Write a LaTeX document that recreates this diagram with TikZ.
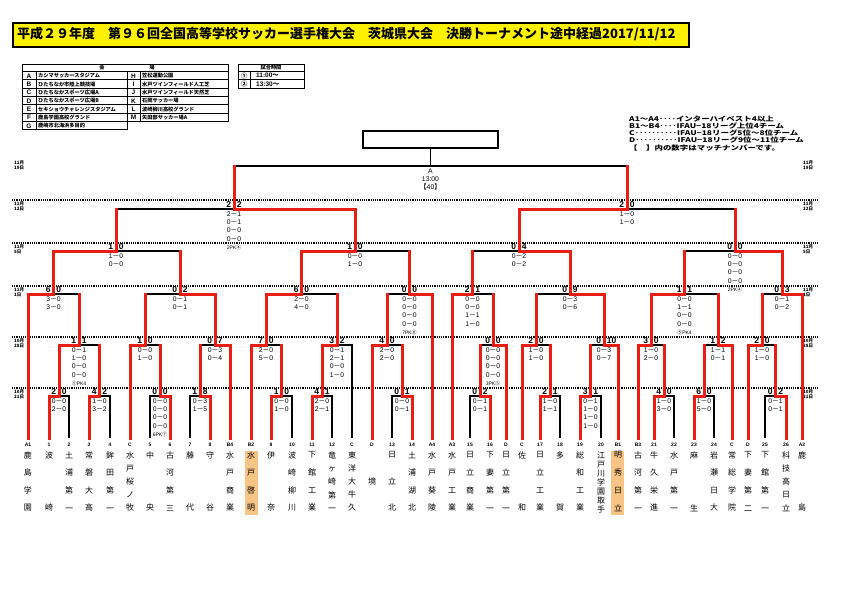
\documentclass[tikz,border=0pt]{standalone}
\usepackage{fontspec}
\usepackage{graphicx}
\setmainfont{Liberation Sans}
\newfontfamily\jp{Noto Sans CJK JP}
\usetikzlibrary{calc}

\definecolor{wred}{RGB}{230,30,20}
\definecolor{hl}{RGB}{246,196,132}
\newcommand\hy{{\jp －}}
\newcommand\pk[1]{{\fontsize{5}{8.3}\selectfont #1}}
% team name written top to bottom, spread over the column
\newcommand\vname[1]{\parbox[c][60pt][s]{10pt}{\centering\vskip 0pt plus .001fil
  \foreach[count=\k] \c in #1 {\ifnum\k>1 \par\vfill\fi\c}\par\vskip 0pt plus .001fil}}
% score of one match: goals left, goals right, details
\newcommand\res[4]{%
  \node[hd, anchor=south east] (#1a) at ([xshift=-2.6pt,yshift=1.4pt]#1) {#2};
  \node[hd, anchor=south west] (#1b) at ([xshift=2.6pt,yshift=1.4pt]#1) {#3};
  \node[sl, anchor=north] (#1s) at ([yshift=-2.4pt]#1) {#4};}

\begin{document}
\begin{tikzpicture}[
    x=1pt,
    y=-1pt,
    wl/.style={draw=wred, line width=3pt, line cap=rect},
    ll/.style={draw=black, line width=1.8pt},
    hd/.style={font=\fontsize{8.5}{9}\selectfont\bfseries, inner sep=0},
    sl/.style={font=\fontsize{6.8}{8.3}\selectfont, align=center, inner sep=0},
    tn/.style={font=\fontsize{5}{5}\selectfont\bfseries, inner sep=0},
    nm/.style={font=\jp\fontsize{8}{9}\selectfont, inner sep=0},
    dt/.style={font=\jp\bfseries\fontsize{4.5}{5}\selectfont, align=left, anchor=north west, inner sep=0},
    dots/.style={line width=1.1pt, dash pattern=on 1.2pt off 1pt},
    lg/.style={font=\jp\bfseries\fontsize{6.5}{7}\selectfont, anchor=west, inner sep=0},
    vt/.style={font=\jp\bfseries\fontsize{5.2}{6}\selectfont, anchor=west, inner sep=0},
    vl/.style={font=\bfseries\fontsize{6.5}{7}\selectfont, inner sep=0}
]
\useasboundingbox (0,0) rectangle (842,595);

% title bar
\node[draw, line width=2pt, fill=yellow, minimum width=676pt, minimum height=24pt, anchor=north west, inner sep=0] (title) at (12,22) {};
\node[anchor=west, font=\jp\bfseries\fontsize{13}{13}\selectfont, inner sep=0] (ttl) at (17,34) {平成２９年度　第９６回全国高等学校サッカー選手権大会　茨城県大会　決勝トーナメント途中経過2017/11/12};

% venue table
\draw[line width=1pt] (22,64) -- (228,64) -- (228,121.5);
\draw[line width=1pt] (22,64) -- (22,129.8) -- (127,129.8);
\foreach \y in {71.5,79.8,88.2,96.5,104.8,113.2,121.5}
  \draw[line width=1pt] (22,\y) -- (228,\y);
\draw[line width=1pt] (36,71.5) -- (36,129.8);
\draw[line width=1pt] (127,71.5) -- (127,129.8);
\draw[line width=1pt] (140,71.5) -- (140,121.5);
\node[vt, anchor=center] (hv1) at (102,67.8) {会};
\node[vt, anchor=center] (hv2) at (152,67.8) {場};
\foreach \l/\n [count=\i] in {A/カシマサッカースタジアム, B/ひたちなか市陸上競技場, C/ひたちなかスポーツ広場A, D/ひたちなかスポーツ広場B, E/セキショウチャレンジスタジアム, F/鹿島学園高校グランド, G/鹿嶋市北海浜多目的} {
  \node[vl] (va\i) at (29,{67.5+8.33*\i}) {\l};
  \node[vt] (vn\i) at (38,{67.5+8.33*\i}) {\n};
}
\foreach \l/\n [count=\i] in {H/笠松運動公園, I/水戸ツインフィールド人工芝, J/水戸ツインフィールド天然芝, K/石岡サッカー場, L/波崎柳川高校グランド, M/矢田部サッカー場A} {
  \node[vl] (vb\i) at (133.5,{67.5+8.33*\i}) {\l};
  \node[vt] (vm\i) at (142,{67.5+8.33*\i}) {\n};
}

% match times
\draw[line width=1pt] (238,64) rectangle (304,88.2);
\draw[line width=1pt] (238,71.5) -- (304,71.5);
\draw[line width=1pt] (238,79.8) -- (304,79.8);
\draw[line width=1pt] (250,71.5) -- (250,88.2);
\node[vt, anchor=center] (th) at (271,67.8) {試合時間};
\node[vl, font=\jp\bfseries\fontsize{6.5}{7}\selectfont] (tc1) at (244,75.7) {①};
\node[vl, font=\jp\bfseries\fontsize{6.5}{7}\selectfont] (tc2) at (244,84) {②};
\node[vl, anchor=west] (tt1) at (256,75.7) {11:00{\jp ～}};
\node[vl, anchor=west] (tt2) at (256,84) {13:30{\jp ～}};

% legend
\node[lg] (lg1) at (629,119) {\scalebox{1.3}[1]{A1～A4‥‥インターハイベスト4以上}};
\node[lg] (lg2) at (629,126) {\scalebox{1.3}[1]{B1～B4‥‥IFAU−18リーグ上位4チーム}};
\node[lg] (lg3) at (629,133) {\scalebox{1.3}[1]{C‥‥‥‥‥IFAU−18リーグ5位～8位チーム}};
\node[lg] (lg4) at (629,140) {\scalebox{1.3}[1]{D‥‥‥‥‥IFAU−18リーグ9位～11位チーム}};
\node[lg] (lg5) at (629,148) {\scalebox{1.3}[1]{【　】内の数字はマッチナンバーです。}};

% round lines and dates
\foreach \y in {200,243,286,337,388}
  \draw[dots] (12,\y) -- (818,\y);
\foreach \y/\mo/\dy in {161/11/19, 202/11/12, 245/11/5, 288/11/1, 339/10/28, 390/10/21} {
  \node[dt] (dl\dy) at (14,\y) {{\mo}月\\{\dy}日};
  \node[dt] (dr\dy) at (803,\y) {{\mo}月\\{\dy}日};
}

% finalists
\fill[hl] (245,451) rectangle (258,515);
\fill[hl] (611,451) rectangle (624,515);

% teams
\foreach \i/\x/\lab/\nm in {
  1/28/A1/{鹿,島,学,園}, 2/49/1/{波,崎}, 3/69/2/{土,浦,第,一}, 4/89/3/{常,磐,大,高},
  5/110/4/{鉾,田,第,一}, 6/130/C/{水,戸,桜,ノ,牧}, 7/150/5/{中,央}, 8/170/6/{古,河,第,三},
  9/190/7/{藤,代}, 10/210/8/{守,谷}, 11/230/B4/{水,戸,商,業}, 12/251/B2/{水,戸,啓,明},
  13/271/9/{伊,奈}, 14/292/10/{波,崎,柳,川}, 15/312/11/{下,館,工,業}, 16/332/12/{竜,ヶ,崎,第,一},
  17/352/C/{東,洋,大,牛,久}, 18/372/D/{境}, 19/392/13/{日,立,北}, 20/412/14/{土,浦,湖,北},
  21/432/A4/{水,戸,葵,陵}, 22/452/A3/{水,戸,工,業}, 23/470/15/{日,立,商,業}, 24/490/16/{下,妻,第,一},
  25/506/D/{日,立,第,一}, 26/522/C/{佐,和}, 27/540/17/{日,立,工,業}, 28/560/18/{多,賀},
  29/580/19/{総,和,工,業}, 30/601/20/{江,戸,川,学,園,取,手}, 31/618/B1/{明,秀,日,立}, 32/638/B3/{古,河,第,一},
  33/654/21/{牛,久,栄,進}, 34/674/22/{水,戸,第,一}, 35/694/23/{麻,生}, 36/714/24/{岩,瀬,日,大},
  37/732/C/{常,総,学,院}, 38/748/D/{下,妻,第,二}, 39/765/25/{下,館,第,一}, 40/786/26/{科,技,高,日,立},
  41/802/A2/{鹿,島}} {
  \coordinate (t\i) at (\x,438);
  \node[tn] (l\i) at (\x,445) {\lab};
  \node[nm] (n\i) at (\x,481.5) {\vname{\nm}};
}

% match points
\coordinate (m1) at (59,396);    \coordinate (m2) at (99.5,396);  \coordinate (m3) at (160,396);
\coordinate (m4) at (200,396);   \coordinate (m5) at (281.5,396); \coordinate (m6) at (322,396);
\coordinate (m7) at (402,396);   \coordinate (m8) at (480,396);   \coordinate (m9) at (550,396);
\coordinate (m10) at (590.5,396); \coordinate (m11) at (664,396); \coordinate (m12) at (704,396);
\coordinate (m13) at (775.5,396);
\coordinate (m14) at (79,345);   \coordinate (m15) at (145,345);  \coordinate (m16) at (215,345);
\coordinate (m17) at (266,345);  \coordinate (m18) at (337,345);  \coordinate (m19) at (387,345);
\coordinate (m20) at (493,345);  \coordinate (m21) at (536,345);  \coordinate (m22) at (604,345);
\coordinate (m23) at (651,345);  \coordinate (m24) at (718,345);  \coordinate (m25) at (762,345);
\coordinate (m26) at (53.5,294); \coordinate (m27) at (180,294);  \coordinate (m28) at (301.5,294);
\coordinate (m29) at (409.5,294); \coordinate (m30) at (472.5,294); \coordinate (m31) at (570,294);
\coordinate (m32) at (684.5,294); \coordinate (m33) at (782,294);
\coordinate (m34) at (116,251);  \coordinate (m35) at (355,251);  \coordinate (m36) at (519,251);
\coordinate (m37) at (735,251);
\coordinate (m38) at (234,209);  \coordinate (m39) at (627,209);
\coordinate (m40) at (430.5,166);

% losers
\foreach \a/\b in {t3/m1,t5/m2,t7/m3,t9/m4,t14/m5,t16/m6,t19/m7,t23/m8,t28/m9,t30/m10,t34/m11,t36/m12,t39/m13,t17/m18}
  \draw[ll] (\a) |- (\b);
\foreach \a/\b in {m2/m14,m3/m15,m4/m16,m5/m17,m7/m19,m8/m20,m9/m21,m10/m22,m11/m23,m12/m24,m13/m25,m14/m26,m15/m27,m18/m28,m19/m29,m20/m30,m21/m31,m24/m32,m25/m33,m27/m34,m29/m35,m30/m36,m32/m37,m34/m38,m37/m39,m38/m40,m39/m40}
  \draw[ll] (\a |- \b) -- (\b);

% final box
\node[draw, line width=1.4pt, fill=white, minimum width=135pt, minimum height=17pt, inner sep=0] (cup) at (430.5,139.5) {};
\draw[ll] (m40) -- (cup.south);

% winners
\foreach \a/\b in {m2/m14,m3/m15,m4/m16,m5/m17,m7/m19,m8/m20,m9/m21,m10/m22,m11/m23,m12/m24,m13/m25,m14/m26,m15/m27,m18/m28,m19/m29,m20/m30,m21/m31,m24/m32,m25/m33,m27/m34,m29/m35,m30/m36,m32/m37,m34/m38,m37/m39,m38/m40,m39/m40}
  \draw[wl] (\a) -- (\a |- \b);
\foreach \a/\b in {t2/m1,t4/m2,t8/m3,t10/m4,t13/m5,t15/m6,t20/m7,t24/m8,t27/m9,t29/m10,t33/m11,t35/m12,t40/m13,
    m1/m14,t6/m15,t11/m16,t12/m17,m6/m18,t18/m19,t25/m20,t26/m21,t31/m22,t32/m23,t37/m24,t38/m25,
    t1/m26,m16/m27,m17/m28,t21/m29,t22/m30,m22/m31,m23/m32,t41/m33,m26/m34,m28/m35,m31/m36,m33/m37,m35/m38,m36/m39}
  \draw[wl] (\a) |- (\b);

% scores
\res{m1}{2}{0}{0\hy0\\2\hy0}
\res{m2}{4}{2}{1\hy0\\3\hy2}
\res{m3}{0}{0}{0\hy0\\0\hy0\\0\hy0\\0\hy0\\\pk{6PK{\jp ⑦}}}
\res{m4}{1}{8}{0\hy3\\1\hy5}
\res{m5}{1}{0}{0\hy0\\1\hy0}
\res{m6}{4}{1}{2\hy0\\2\hy1}
\res{m7}{0}{1}{0\hy0\\0\hy1}
\res{m8}{0}{2}{0\hy1\\0\hy1}
\res{m9}{2}{1}{1\hy0\\1\hy1}
\res{m10}{3}{1}{0\hy1\\1\hy0\\1\hy0\\1\hy0}
\res{m11}{4}{0}{1\hy0\\3\hy0}
\res{m12}{6}{0}{1\hy0\\5\hy0}
\res{m13}{0}{2}{0\hy1\\0\hy1}
\res{m14}{1}{1}{0\hy1\\1\hy0\\0\hy0\\0\hy0\\\pk{{\jp ⑤}PK4}}
\res{m15}{1}{0}{0\hy0\\1\hy0}
\res{m16}{0}{7}{0\hy3\\0\hy4}
\res{m17}{7}{0}{2\hy0\\5\hy0}
\res{m18}{3}{2}{0\hy1\\2\hy1\\0\hy0\\1\hy0}
\res{m19}{4}{0}{2\hy0\\2\hy0}
\res{m20}{0}{0}{0\hy0\\0\hy0\\0\hy0\\0\hy0\\\pk{3PK{\jp ⑤}}}
\res{m21}{2}{0}{1\hy0\\1\hy0}
\res{m22}{0}{10}{0\hy3\\0\hy7}
\res{m23}{3}{0}{1\hy0\\2\hy0}
\res{m24}{1}{2}{1\hy1\\0\hy1}
\res{m25}{2}{0}{1\hy0\\1\hy0}
\res{m26}{6}{0}{3\hy0\\3\hy0}
\res{m27}{0}{2}{0\hy1\\0\hy1}
\res{m28}{6}{0}{2\hy0\\4\hy0}
\res{m29}{0}{0}{0\hy0\\0\hy0\\0\hy0\\0\hy0\\\pk{7PK{\jp ⑧}}}
\res{m30}{2}{1}{0\hy0\\0\hy0\\1\hy1\\1\hy0}
\res{m31}{0}{9}{0\hy3\\0\hy6}
\res{m32}{1}{1}{0\hy0\\1\hy1\\0\hy0\\0\hy0\\\pk{{\jp ⑤}PK4}}
\res{m33}{0}{3}{0\hy1\\0\hy2}
\res{m34}{1}{0}{1\hy0\\0\hy0}
\res{m35}{1}{0}{0\hy0\\1\hy0}
\res{m36}{0}{4}{0\hy2\\0\hy2}
\res{m37}{0}{0}{0\hy0\\0\hy0\\0\hy0\\0\hy0\\\pk{2PK{\jp ④}}}
\res{m38}{2}{2}{2\hy1\\0\hy1\\0\hy0\\0\hy0\\\pk{2PK{\jp ④}}}
\res{m39}{2}{0}{1\hy0\\1\hy0}
\node[sl, anchor=north] (fin) at ([yshift=-2.4pt]m40) {A\\13:00\\{\jp 【}40{\jp 】}};
\end{tikzpicture}
\end{document}
